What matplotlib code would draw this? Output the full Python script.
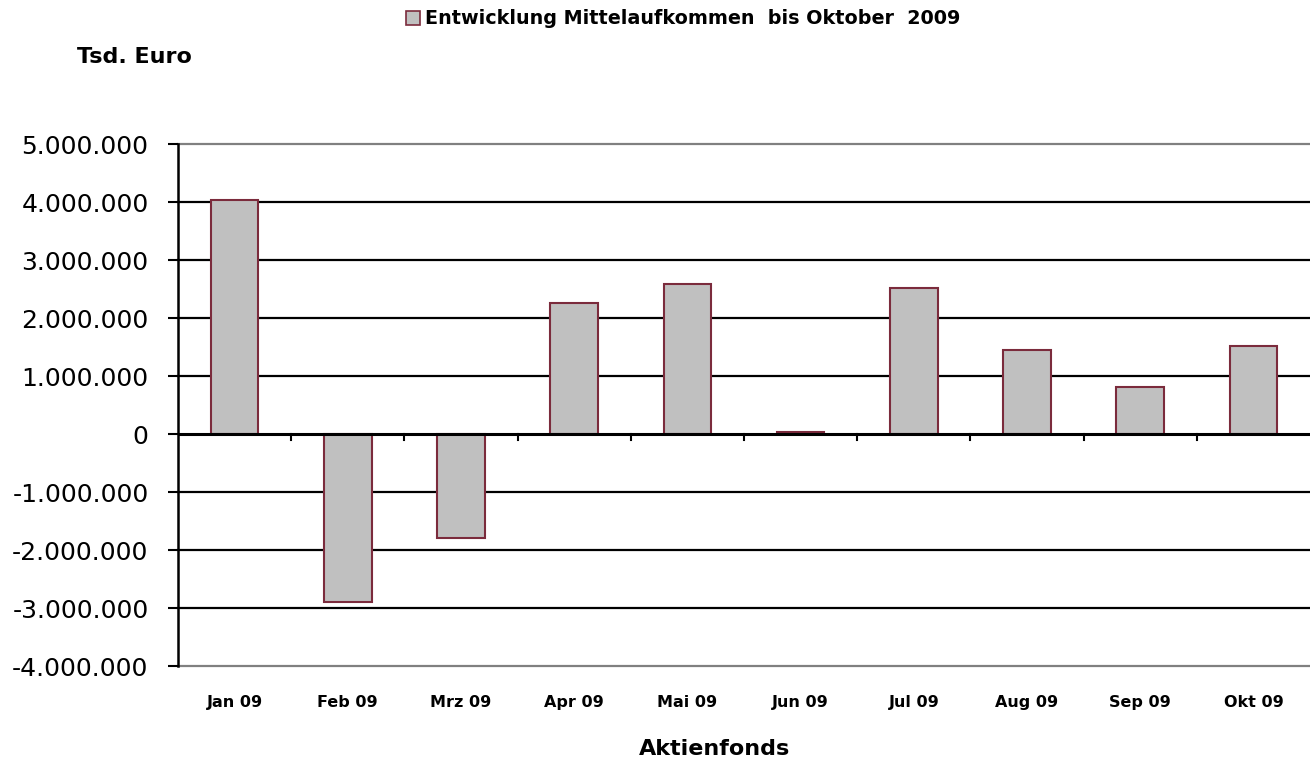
import matplotlib
matplotlib.use("Agg")
import matplotlib.pyplot as plt
import matplotlib.transforms as mtransforms
from matplotlib.patches import Patch
from matplotlib.ticker import FuncFormatter

categories = ["Jan 09", "Feb 09", "Mrz 09", "Apr 09", "Mai 09", "Jun 09",
              "Jul 09", "Aug 09", "Sep 09", "Okt 09"]
values = [4030000, -2900000, -1790000, 2260000, 2590000, 30000,
          2520000, 1450000, 810000, 1520000]
yticks = [-4000000, -3000000, -2000000, -1000000, 0, 1000000, 2000000,
          3000000, 4000000, 5000000]
series_name = "Entwicklung Mittelaufkommen  bis Oktober  2009"

plt.rcParams['font.family'] = ['DejaVu Sans']

fig = plt.figure(figsize=(13.1, 7.65), dpi=100)
ax = fig.add_axes([178/1310, 1-666/765, 1-178/1310, (666-144)/765])

x = list(range(len(categories)))
ax.bar(x, values, width=0.42, color="#C0C0C0", edgecolor="#7B2B3C",
       linewidth=1.5, zorder=3)

ax.set_xlim(-0.5, len(categories)-0.5)
ax.set_ylim(yticks[0], yticks[-1])

for yt in yticks:
    if yt == 0:
        continue
    col = "#808080" if yt in (yticks[0], yticks[-1]) else "black"
    ax.axhline(yt, color=col, linewidth=1.6, zorder=1, clip_on=False)

for s in ["top", "right", "bottom"]:
    ax.spines[s].set_visible(False)
ax.spines["left"].set_linewidth(1.8)
ax.axhline(0, color="black", linewidth=2.2, zorder=4)

ax.set_yticks(yticks)
ax.yaxis.set_major_formatter(FuncFormatter(lambda v, p: f"{int(v):,}".replace(",", ".")))
ax.tick_params(axis="y", direction="out", length=7.2, width=1.5, labelsize=18, pad=14)

# category boundary ticks on the zero line
ax.set_xticks([])
for b in range(1, len(categories)):
    ax.plot([b-0.5, b-0.5], [0, -110000], color="black", linewidth=1.5,
            zorder=4, clip_on=False)

tl = mtransforms.blended_transform_factory(ax.transData, ax.transAxes)
for i, c in enumerate(categories):
    ax.text(i, -0.055, c, transform=tl, ha="center", va="top",
            fontsize=11.5, fontweight="bold")

fig.text(715/1310, 1-755/765, "Aktienfonds", ha="center", va="baseline",
         fontsize=16, fontweight="bold")
fig.text(77/1310, 1-63/765, "Tsd. Euro", ha="left", va="baseline",
         fontsize=16, fontweight="bold")

handle = Patch(facecolor="#C0C0C0", edgecolor="#7B2B3C", linewidth=1.2)
fig.legend([handle], [series_name], loc="center", bbox_to_anchor=(683/1310, 1-19/765),
           frameon=False, prop={"weight": "bold", "size": 13.8},
           handlelength=0.75, handleheight=0.75, handletextpad=0.25)

fig.savefig("out.png", dpi=100)
